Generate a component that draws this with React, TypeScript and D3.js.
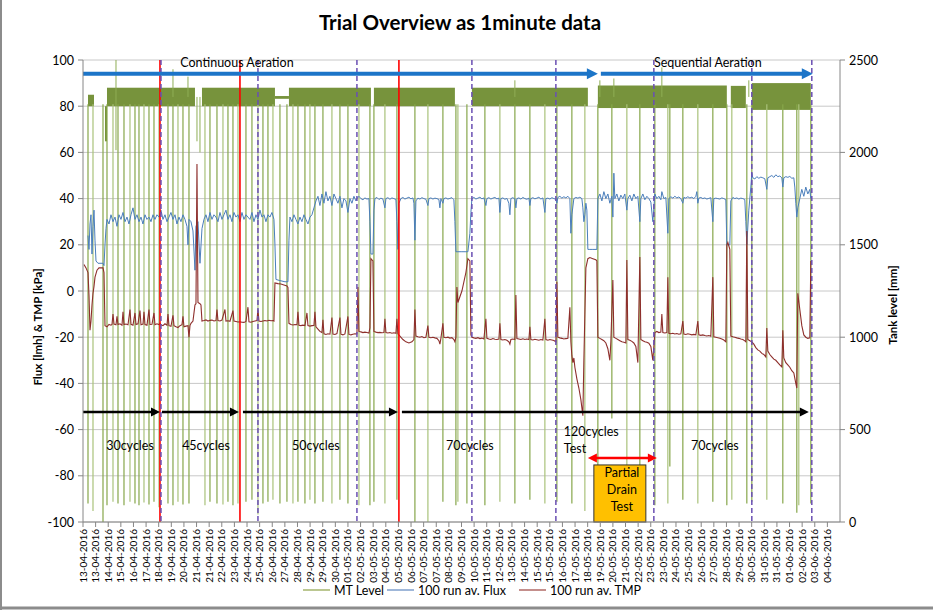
import React, { useEffect } from 'react';
import * as d3 from 'd3';

const W = 933;
const H = 610;
const PLOT = { left: 83, right: 840, top: 60, bottom: 522 };
const FONT = "Lato, 'Open Sans', sans-serif";

// x axis is a category axis of 1-minute samples; one tick label every 1262 samples
const SAMPLES_PER_LABEL = 1262;
const tickLabels = [
  '13-04-2016', '13-04-2016', '14-04-2016', '15-04-2016', '16-04-2016', '17-04-2016', '18-04-2016', '19-04-2016',
  '20-04-2016', '21-04-2016', '21-04-2016', '22-04-2016', '23-04-2016', '24-04-2016', '25-04-2016', '26-04-2016',
  '27-04-2016', '28-04-2016', '29-04-2016', '29-04-2016', '30-04-2016', '01-05-2016', '02-05-2016', '03-05-2016',
  '04-05-2016', '05-05-2016', '06-05-2016', '07-05-2016', '07-05-2016', '08-05-2016', '09-05-2016', '10-05-2016',
  '11-05-2016', '12-05-2016', '13-05-2016', '14-05-2016', '15-05-2016', '15-05-2016', '16-05-2016', '17-05-2016',
  '18-05-2016', '19-05-2016', '20-05-2016', '21-05-2016', '22-05-2016', '23-05-2016', '23-05-2016', '24-05-2016',
  '25-05-2016', '26-05-2016', '27-05-2016', '28-05-2016', '29-05-2016', '30-05-2016', '31-05-2016', '31-05-2016',
  '01-06-2016', '02-06-2016', '03-06-2016', '04-06-2016',
];
const leftTicks = [-100, -80, -60, -40, -20, 0, 20, 40, 60, 80, 100];
const rightTicks = [0, 500, 1000, 1500, 2000, 2500];

// 100 run av. Flux [lmh]: [sample, value]
const fluxData: [number, number][] = [
  [500, 24], [600, 18], [700, 29], [800, 33], [900, 16], [1000, 28], [1100, 35], [1200, 22], [1300, 13], [1500, 12],
  [1700, 12], [2000, 12], [2100, 11], [2200, 20], [2300, 27], [2400, 31],
  [2600, 29], [2800, 33], [3000, 30], [3200, 32], [3400, 28], [3600, 33], [3800, 31], [4000, 34], [4200, 30], [4400, 32],
  [4600, 29], [4800, 33], [5000, 36], [5200, 31], [5400, 33], [5600, 30], [5800, 32], [6000, 29], [6200, 33], [6400, 31],
  [6600, 32], [6800, 30], [7000, 33], [7200, 31], [7400, 33], [7600, 32], [7800, 35], [8000, 31], [8200, 33], [8400, 30],
  [8600, 32], [8800, 34], [9000, 31], [9200, 33], [9400, 29], [9600, 32], [9800, 30], [10000, 33], [10200, 31], [10400, 28],
  [10500, 20], [10600, 31], [10800, 30], [11000, 26], [11200, 9], [11300, 28], [11500, 30], [11700, 12], [11900, 27],
  [12100, 31], [12300, 33], [12500, 30], [12700, 34], [12900, 31], [13100, 33], [13300, 32], [13500, 30], [13700, 34],
  [13900, 31], [14100, 33], [14300, 35], [14500, 31], [14700, 33], [14900, 30], [15100, 34], [15300, 32], [15500, 33],
  [15700, 30], [15900, 34], [16100, 31], [16300, 33], [16500, 32], [16700, 31], [16900, 34], [17100, 30], [17300, 33],
  [17500, 31], [17700, 35], [17900, 32], [18100, 33], [18300, 30], [18500, 33], [18700, 32], [18900, 34], [19100, 31],
  [19200, 20], [19300, 5], [19700, 4.5], [20200, 4], [20500, 4], [20600, 22], [20700, 32],
  [20900, 30], [21100, 33], [21300, 31], [21500, 29], [21700, 32], [21900, 30], [22100, 33], [22300, 31], [22500, 29],
  [22700, 32], [22900, 33], [23100, 36], [23300, 39], [23500, 41], [23700, 37], [23900, 42], [24100, 38], [24300, 43],
  [24500, 39], [24700, 41], [24900, 37], [25100, 42], [25300, 40], [25500, 38], [25700, 41], [25900, 36], [26100, 40],
  [26300, 39], [26500, 34], [26700, 40], [26900, 38], [27100, 41], [27300, 39],
  [27400, 40], [27600, 41], [27800, 40], [28000, 39.5], [28200, 40.3], [28400, 39.8], [28600, 40], [28700, 30], [28800, 16],
  [29000, 16], [29100, 35], [29200, 40], [29400, 40.5], [29600, 39.6], [29800, 40.2], [30000, 39.8], [30200, 36], [30300, 40],
  [30500, 40.4], [30700, 39.7], [30900, 40.3], [31100, 40], [31300, 39.6], [31400, 30], [31500, 18], [31600, 38], [31800, 40],
  [32000, 40.5], [32200, 39.8], [32400, 40.2], [32600, 40.6], [32800, 39.9], [33000, 40.3], [33100, 38], [33200, 22],
  [33300, 39], [33500, 40.2], [33700, 39.8], [33900, 40.4], [34100, 40], [34300, 39.7], [34500, 37], [34600, 40],
  [34800, 40.3], [35000, 39.8], [35200, 40.2], [35400, 40], [35600, 39.6], [35700, 36], [35800, 40], [36000, 38],
  [36100, 40], [36300, 40.3], [36500, 39.8], [36700, 40.1], [36900, 40.4], [37100, 39.5], [37200, 30], [37300, 17],
  [37500, 17], [37900, 17], [38300, 17], [38500, 17], [38700, 25], [38800, 34], [38900, 40], [39100, 40.5], [39300, 39.8],
  [39500, 40.2], [39700, 40.6], [39900, 39.9], [40100, 40.3], [40300, 37], [40400, 40], [40600, 40.4], [40800, 39.8],
  [41000, 40.2], [41200, 40.5], [41400, 39.9], [41600, 40.2], [41700, 34], [41800, 40], [42000, 40.3], [42200, 39.7],
  [42400, 40.1], [42600, 38], [42700, 33], [42800, 40], [43000, 40.4], [43200, 39.8], [43300, 36], [43400, 40],
  [43600, 40.3], [43800, 39.8], [44000, 40.5], [44200, 40], [44400, 39.7], [44600, 40.2], [44700, 37], [44800, 40],
  [45000, 40.4], [45200, 39.9], [45400, 40.2], [45600, 40.6], [45800, 39.8], [46000, 40.3], [46200, 34], [46300, 40],
  [46500, 40.2], [46700, 39.8], [46900, 40.4], [47100, 40], [47300, 39.7], [47400, 38], [47500, 40.5], [47700, 41],
  [47900, 40.2], [48100, 40.8], [48300, 40.3], [48500, 41], [48700, 40], [48800, 25], [48900, 33], [49100, 40],
  [49300, 40.5], [49500, 40.2], [49700, 40.6], [49900, 40], [50000, 36], [50100, 30], [50200, 33], [50300, 38],
  [50400, 35], [50500, 18], [50700, 18], [51000, 18], [51400, 18], [51500, 40],
  [51700, 42], [51900, 39], [52100, 43], [52300, 40], [52500, 42], [52700, 38], [52900, 41], [53000, 32], [53100, 51],
  [53200, 40], [53400, 42], [53600, 39], [53800, 41.5], [54000, 40], [54200, 42], [54400, 35], [54500, 40], [54700, 41.5],
  [54900, 39], [55100, 42], [55300, 40], [55500, 41], [55700, 30], [55800, 40], [56000, 42], [56200, 39.5], [56400, 41],
  [56600, 40], [56800, 38.5], [57000, 30], [57100, 36], [57200, 42],
  [57400, 40], [57600, 41], [57800, 39.5], [57900, 43], [58100, 40], [58300, 40.5], [58500, 25], [58600, 40], [58800, 40.8],
  [59000, 40.2], [59200, 41], [59400, 40.3], [59600, 40.7], [59800, 40], [60000, 38], [60100, 40.5], [60300, 40.2],
  [60500, 40.8], [60700, 40.3], [60900, 40.6], [61100, 40], [61300, 41], [61400, 43], [61500, 38], [61600, 40.2],
  [61800, 40.5], [62000, 40], [62200, 40.3], [62400, 39.8], [62600, 40.1], [62800, 40.4], [63000, 30], [63100, 40],
  [63300, 40.2], [63500, 40], [63700, 39.8], [63900, 40.3], [64100, 40], [64300, 39.5], [64400, 20], [64700, 20],
  [64800, 39], [65000, 40.5], [65200, 40], [65400, 40.3], [65600, 39.8], [65800, 40.2], [66000, 40], [66200, 39.6],
  [66300, 30], [66400, 20], [66600, 35], [66800, 45], [66900, 51], [67000, 49],
  [67200, 48.5], [67400, 49.5], [67600, 48.8], [67800, 49.3], [68000, 49], [68200, 48.6], [68400, 44], [68500, 49],
  [68700, 49.5], [68900, 50], [69100, 49.2], [69300, 50.3], [69500, 49.5], [69700, 49.8], [69900, 49], [70000, 45],
  [70100, 49], [70300, 49.5], [70500, 49.2], [70700, 49.6], [70900, 48.8], [71100, 49], [71200, 45], [71300, 38],
  [71400, 32], [71500, 36], [71700, 40], [71900, 44], [72100, 41], [72300, 45], [72500, 42], [72700, 44], [72800, 40],
];

// 100 run av. TMP [kPa]: [sample, value]
const tmpData: [number, number][] = [
  [100, 11.5], [300, 10], [500, 8], [600, -2], [700, -17], [800, -13], [900, -6], [1000, -1], [1100, 2], [1200, 6],
  [1400, 9], [1600, 10], [2000, 10], [2100, 8], [2200, -15], [2400, -15.5], [2600, -14.5], [2800, -14.8], [2900, -14.5],
  [3000, -10], [3100, -14.3], [3300, -14.6], [3400, -11], [3500, -14.5], [3700, -14.2], [3900, -14.8], [4000, -9],
  [4100, -14.5], [4300, -14.3], [4500, -14.6], [4700, -8], [4800, -14.4], [5000, -14.8], [5200, -9.5], [5300, -14.5],
  [5500, -14.2], [5700, -8.5], [5800, -14.6], [6000, -14.3], [6100, -9], [6200, -14.5], [6400, -14.8], [6600, -8],
  [6700, -14.5], [6900, -14.4], [7100, -9.5], [7200, -14.6], [7400, -14.2], [7600, -14.5], [7700, -14], [7800, -14.6],
  [8000, -15], [8200, -14.2], [8400, -14.8], [8500, -10], [8600, -15], [8800, -15.3], [9000, -10.5], [9100, -15],
  [9300, -15.5], [9500, -15.8], [9700, -15], [9900, -14.6], [10000, -11], [10100, -15.5], [10300, -15.2], [10500, -15],
  [10600, -20], [10700, -15], [10800, -14], [11000, -13], [11200, -6], [11300, -5.5], [11400, 55], [11500, -5],
  [11700, -5.5], [11800, -6], [11900, -13], [12100, -12.8], [12300, -12.5], [12500, -13], [12700, -12.7], [12900, -12.6],
  [13100, -13], [13300, -12.8], [13400, -8], [13500, -12.8], [13700, -13], [13900, -12.6], [14200, -8], [14300, -13],
  [14500, -12.9], [14700, -13.1], [15000, -8.5], [15100, -13], [15300, -13.2], [15500, -13.4], [15700, -13.3],
  [15900, -13.5], [16100, -13.6], [16300, -13.2], [16500, -7], [16600, -13.3], [16800, -13.5], [17000, -13.2],
  [17200, -13], [17400, -12.8], [17500, -8], [17600, -13], [17800, -13.2], [18000, -13], [18200, -12.8], [18400, -13],
  [18600, -12.7], [18800, -12.9], [19000, -12.8], [19100, -13], [19200, 3.5], [19500, 3.2], [19800, 3], [20100, 2.6],
  [20400, 2.2], [20500, 1.5], [20600, -14], [20800, -14.5], [21000, -14.7], [21200, -14.5], [21400, -14.6], [21500, -9],
  [21600, -14.8], [21800, -15], [22000, -14.8], [22200, -15], [22400, -9.5], [22500, -15], [22700, -15.2], [22900, -15],
  [23100, -14.9], [23200, -9], [23300, -15.5], [23500, -16.5], [23700, -17.5], [23900, -18], [24000, -12.5],
  [24100, -18.5], [24300, -18.8], [24500, -18.5], [24700, -18.7], [24900, -11.5], [25000, -18.6], [25200, -18.8],
  [25400, -18.4], [25700, -11.5], [25800, -18.7], [26000, -19], [26200, -18.6], [26500, -11], [26600, -18.8],
  [26800, -19], [27000, -18.7], [27200, -18.5], [27400, -18.6], [27500, 1.7], [27600, -17.5], [27800, -17.7],
  [28000, -18], [28200, -17.8], [28400, -18], [28600, -18.2], [28700, -16], [28800, 14], [29000, 13], [29100, -17.5],
  [29300, -17.8], [29500, -18], [29700, -17.9], [29900, -18.1], [30100, -18], [30200, -12], [30300, -18],
  [30500, -18.2], [30700, -18], [30900, -18.3], [31100, -18.1], [31300, -18.3], [31400, -12], [31500, -18.5],
  [31700, -19.5], [32000, -21], [32300, -22], [32600, -22.5], [32900, -22], [33100, -21], [33200, -8], [33300, -19.5],
  [33500, -19.8], [33700, -20], [33900, -19.7], [34100, -20.2], [34300, -20], [34500, -15], [34600, -20], [34800, -20.2],
  [35000, -20], [35200, -20.3], [35400, -20.5], [35600, -21.5], [35700, -23], [35800, -20.5], [36000, -14], [36100, -20],
  [36300, -20.2], [36500, -20], [36700, -20.4], [36900, -20.2], [37100, -21], [37200, -22], [37300, -20], [37400, 1.7],
  [37500, -5], [37900, 0], [38300, 8], [38500, 14], [38700, 13], [38800, -19], [38900, -20], [39100, -20.3],
  [39300, -20.5], [39500, -20.2], [39700, -20.6], [39900, -20.4], [40100, -20.8], [40300, -12], [40400, -20.5],
  [40600, -20.8], [40800, -21], [41000, -20.6], [41200, -20.9], [41400, -21], [41600, -20.8], [41700, -14], [41800, -21],
  [42000, -21.2], [42200, -21], [42400, -21.3], [42600, -22], [42700, -23], [42800, -21], [43000, -20.8], [43200, -21],
  [43300, -1.7], [43400, -20.6], [43600, -20.8], [43800, -21], [44000, -20.7], [44200, -21], [44400, -20.8], [44600, -21],
  [44700, -15.5], [44800, -21], [45000, -21.2], [45200, -20.9], [45400, -21.1], [45600, -21.3], [45800, -21],
  [46000, -21.2], [46200, -12], [46300, -21], [46500, -21.3], [46700, -21], [46900, -21.2], [47100, -21.4], [47300, -22],
  [47400, 4], [47500, -20], [47700, -20.3], [47900, -20.5], [48100, -20.8], [48300, -20.6], [48500, -20.5], [48700, -7],
  [48800, -22], [48900, -28], [49000, -31], [49100, -29], [49200, -33], [49400, -38], [49600, -42], [49800, -47],
  [50000, -54], [50100, -30], [50300, 10], [50500, 14], [50700, 14.5], [51000, 14], [51300, 13.5], [51400, 13],
  [51500, -20], [51700, -20.5], [51900, -21], [52100, -21.5], [52300, -22.5], [52500, -25], [52700, -30], [52800, -22],
  [53000, 4.8], [53100, -20], [53300, -20.5], [53500, -21], [53700, -21.5], [53900, -22], [54100, -22.2], [54300, -22.5],
  [54400, 13.4], [54500, -21], [54700, -21.3], [54900, -21.8], [55100, -22.5], [55300, -24], [55500, -31], [55700, 14.7],
  [55800, -21], [56000, -21.5], [56200, -22], [56400, -22.2], [56600, -22.6], [56800, -24], [57000, -30], [57200, -18],
  [57400, -17.5], [57600, -18], [57800, -17.8], [57900, -10], [58000, -18], [58200, -18.2], [58400, -18], [58500, 6],
  [58600, -18.3], [58800, -18.5], [59000, -18.3], [59200, -18.6], [59400, -18.4], [59600, -18.7], [59800, -18.5],
  [60000, -13], [60100, -18.6], [60300, -18.8], [60500, -18.5], [60700, -18.7], [60900, -19], [61100, -18.8],
  [61300, -19], [61500, -13], [61600, -19], [61800, -19.2], [62000, -19], [62200, -19.3], [62400, -19.5], [62600, -19.3],
  [62800, -19.6], [63000, 6], [63100, -19.8], [63300, -20], [63500, -20.2], [63700, -20.5], [63900, -20.8],
  [64100, -21.2], [64300, -22], [64400, 20], [64500, 21], [64700, 18], [64800, -19.5], [65000, -19.8], [65200, -20],
  [65400, -20.3], [65600, -20.5], [65800, -20.8], [66000, -21], [66200, -21.6], [66300, -22], [66400, 26], [66500, -21],
  [66700, -21.5], [66900, -22], [67100, -23], [67300, -24.5], [67500, -25.5], [67700, -26], [67900, -27], [68100, -27.5],
  [68300, -28.6], [68400, -16], [68500, -26], [68700, -27.5], [68900, -28.5], [69100, -29.5], [69300, -30], [69500, -31],
  [69700, -32], [69900, -32.9], [70000, -17], [70100, -29], [70300, -31], [70500, -32], [70700, -33], [70900, -34.5],
  [71100, -35.5], [71300, -40], [71400, -42], [71500, -1], [71700, -8], [71900, -15], [72100, -19], [72300, -20],
  [72500, -20.5], [72700, -20.3], [72800, 13],
];

// MT Level [mm]: operating band envelopes [startSample, endSample, minLevel, maxLevel]
const mtBands: [number, number, number, number][] = [
  [500, 1100, 2250, 2312],
  [2200, 2400, 2060, 2250],
  [2400, 11200, 2250, 2350],
  [11900, 19200, 2250, 2350],
  [19200, 20600, 2290, 2305],
  [20600, 28800, 2250, 2350],
  [29100, 37200, 2250, 2350],
  [38900, 50500, 2250, 2350],
  [51500, 64400, 2240, 2362],
  [64800, 66300, 2240, 2360],
  [66900, 72800, 2230, 2375],
];
// MT Level drain events: [sample, lowest level mm]
const mtDrains: [number, number][] = [
  [500, 100], [1000, 60], [2000, 0], [2400, 90], [3000, 110], [3500, 100], [4100, 90], [4700, 110], [5200, 100],
  [5600, 90], [6100, 105], [6600, 95], [7100, 110], [7600, 80], [8500, 100], [9000, 90], [9500, 110], [10000, 95],
  [10600, 100], [12200, 90], [12700, 110], [13400, 100], [14000, 95], [14500, 110], [15000, 90], [15500, 100],
  [16300, 110], [16900, 120], [17500, 40], [18000, 100], [18500, 110], [19000, 120], [19700, 100], [20400, 110],
  [21000, 100], [21500, 110], [22200, 100], [22700, 120], [23200, 100], [24000, 110], [24900, 100], [25700, 120],
  [26500, 100], [27600, 90], [28700, 90], [29100, 110], [30200, 100], [31400, 120], [33200, 0], [34500, 0],
  [36000, 110], [37300, 90], [37500, 110], [38400, 100], [40200, 90], [41700, 110], [43200, 100], [44700, 120],
  [46200, 100], [47400, 110], [48900, 100], [50200, 60], [51500, 110], [52900, 560], [54400, 120], [55700, 110],
  [57200, 90], [58500, 100], [58700, 300], [60000, 120], [61500, 100], [63000, 110], [64400, 90], [64900, 120],
  [66400, 100], [66900, 110], [68400, 120], [70000, 100], [71400, 50], [71600, 90], [72800, 100],
];
// MT Level short excursions: [sample, low mm, high mm]
const mtExcursions: [number, number, number][] = [
  [3300, 2012, 2500], [9000, 2300, 2450], [10500, 2300, 2410], [11400, 2060, 2300], [11700, 2000, 2300],
  [43200, 2300, 2390], [51700, 2300, 2390], [53100, 2300, 2400], [57900, 2300, 2460], [66600, 2300, 2390],
];

const membraneChanges = [7700, 15700, 31600];
const phaseMarkers = [7800, 17500, 27400, 38900, 47300, 57100, 66900, 72900];
const aerationPhases = [
  { label: 'Continuous Aeration', start: 0, end: 51500, textAt: 15400 },
  { label: 'Sequential Aeration', start: 51800, end: 73000, textAt: 62500 },
];
const cyclePhases = [
  { start: 0, end: 7700 },
  { start: 7900, end: 15600 },
  { start: 16000, end: 31500 },
  { start: 31900, end: 72600 },
];
const cycleLabels = [
  { text: '30cycles', at: 4700 },
  { text: '45cycles', at: 12300 },
  { text: '50cycles', at: 23300 },
  { text: '70cycles', at: 38700 },
  { text: '70cycles', at: 63200 },
];

const x = d3.scaleLinear().domain([0, SAMPLES_PER_LABEL * tickLabels.length]).range([PLOT.left, PLOT.right]);
const yL = d3.scaleLinear().domain([-100, 100]).range([PLOT.bottom, PLOT.top]);
const yR = d3.scaleLinear().domain([0, 2500]).range([PLOT.bottom, PLOT.top]);

const COL_MT = '#77933C';
const COL_FLUX = '#4A7EBB';
const COL_TMP = '#8E2F2C';

function headPath(tipX: number, tipY: number, dir: number, len: number, half: number) {
  return `M${tipX},${tipY} L${tipX - dir * len},${tipY - half} L${tipX - dir * len},${tipY + half} Z`;
}

export default function App() {
  useEffect(() => {
    document.body.style.margin = '0';
  }, []);

  const line = d3
    .line<[number, number]>()
    .x((d) => x(d[0]))
    .y((d) => yL(d[1]));

  const aerY = yL(94);
  const cycY = yL(-52.4);
  const drainArrowY = yL(-72.3);

  return (
    <svg
      width={W}
      height={H}
      style={{ position: 'absolute', left: 0, top: 0, background: '#fff' }}
      fontFamily={FONT}
    >
      <rect x={0} y={0} width={W} height={H} fill="#fff" />
      <line x1={1} y1={0} x2={1} y2={H} stroke="#8c8c8c" strokeWidth={2} />
      <line x1={0} y1={H - 2} x2={W} y2={H - 2} stroke="#8c8c8c" strokeWidth={3} />

      <text x={460} y={30} textAnchor="middle" fontSize={20.5} fontWeight="bold" fill="#000">
        Trial Overview as 1minute data
      </text>

      {leftTicks.map((t) => (
        <line key={'g' + t} x1={PLOT.left} x2={PLOT.right} y1={yL(t)} y2={yL(t)} stroke="#c8c8c8" strokeWidth={1} />
      ))}

      <g>
        {mtBands.map((b, i) => (
          <rect
            key={'b' + i}
            x={x(b[0])}
            width={x(b[1]) - x(b[0])}
            y={yR(b[3])}
            height={yR(b[2]) - yR(b[3])}
            fill={COL_MT}
          />
        ))}
        {mtDrains.map((d, i) => (
          <line
            key={'d' + i}
            x1={x(d[0])}
            x2={x(d[0])}
            y1={yR(2260)}
            y2={yR(d[1])}
            stroke={i % 3 === 1 ? '#a9c27a' : '#86a64a'}
            strokeWidth={1.2}
          />
        ))}
        {mtExcursions.map((d, i) => (
          <line key={'e' + i} x1={x(d[0])} x2={x(d[0])} y1={yR(d[1])} y2={yR(d[2])} stroke="#8fae55" strokeWidth={1} />
        ))}
      </g>

      <path d={line(fluxData) || ''} fill="none" stroke={COL_FLUX} strokeWidth={1} />
      <path d={line(tmpData) || ''} fill="none" stroke={COL_TMP} strokeWidth={1.1} />

      {membraneChanges.map((s) => (
        <line key={'r' + s} x1={x(s)} x2={x(s)} y1={PLOT.top} y2={PLOT.bottom} stroke="#ff0000" strokeWidth={1.6} />
      ))}
      {phaseMarkers.map((s) => (
        <line
          key={'p' + s}
          x1={x(s)}
          x2={x(s)}
          y1={PLOT.top}
          y2={PLOT.bottom}
          stroke="#6a4fb3"
          strokeWidth={1.5}
          strokeDasharray="5,3"
        />
      ))}

      {aerationPhases.map((p) => (
        <g key={p.label}>
          <line x1={x(p.start)} x2={x(p.end) - 9} y1={aerY} y2={aerY} stroke="#1C75C8" strokeWidth={4} />
          <path d={headPath(x(p.end), aerY, 1, 11, 5.5)} fill="#1C75C8" />
          <text x={x(p.textAt)} y={yL(97)} textAnchor="middle" fontSize={12.5} fill="#000">
            {p.label}
          </text>
        </g>
      ))}

      {cyclePhases.map((p, i) => (
        <g key={'c' + i}>
          <line x1={x(p.start)} x2={x(p.end) - 7} y1={cycY} y2={cycY} stroke="#000" strokeWidth={2.5} />
          <path d={headPath(x(p.end), cycY, 1, 9, 4.5)} fill="#000" />
        </g>
      ))}
      {cycleLabels.map((c, i) => (
        <text key={'cl' + i} x={x(c.at)} y={yL(-68.8)} textAnchor="middle" fontSize={12.5} fill="#000">
          {c.text}
        </text>
      ))}
      <text x={x(48100)} y={yL(-62.8)} fontSize={12.5} fill="#000">
        120cycles
      </text>
      <text x={x(48100)} y={yL(-70.2)} fontSize={12.5} fill="#000">
        Test
      </text>

      <line x1={x(50500) + 8} x2={x(57400) - 8} y1={drainArrowY} y2={drainArrowY} stroke="#ff0000" strokeWidth={2.5} />
      <path d={headPath(x(50500), drainArrowY, -1, 9, 4.5)} fill="#ff0000" />
      <path d={headPath(x(57400), drainArrowY, 1, 9, 4.5)} fill="#ff0000" />
      <rect
        x={x(51100)}
        y={yL(-75.3)}
        width={x(56300) - x(51100)}
        height={yL(-100) - yL(-75.3)}
        fill="#FFC000"
        stroke="#333"
        strokeWidth={1}
      />
      {['Partial', 'Drain', 'Test'].map((t, i) => (
        <text key={t} x={(x(51100) + x(56300)) / 2 + 2} y={yL(-77.4) + 7 + i * 17} textAnchor="middle" fontSize={12.5} fill="#000">
          {t}
        </text>
      ))}

      <line x1={PLOT.left} x2={PLOT.left} y1={PLOT.top} y2={PLOT.bottom} stroke="#868686" />
      <line x1={PLOT.right} x2={PLOT.right} y1={PLOT.top} y2={PLOT.bottom} stroke="#868686" />
      <line x1={PLOT.left} x2={PLOT.right} y1={PLOT.bottom} y2={PLOT.bottom} stroke="#868686" />
      {leftTicks.map((t) => (
        <g key={'lt' + t}>
          <line x1={PLOT.left - 5} x2={PLOT.left} y1={yL(t)} y2={yL(t)} stroke="#868686" />
          <text x={PLOT.left - 9} y={yL(t) + 4.5} textAnchor="end" fontSize={12.5} fill="#000">
            {t}
          </text>
        </g>
      ))}
      {rightTicks.map((t) => (
        <g key={'rt' + t}>
          <line x1={PLOT.right} x2={PLOT.right + 5} y1={yR(t)} y2={yR(t)} stroke="#868686" />
          <text x={PLOT.right + 9} y={yR(t) + 4.5} textAnchor="start" fontSize={12.5} fill="#000">
            {t}
          </text>
        </g>
      ))}
      {tickLabels.map((l, i) => {
        const px = x(i * SAMPLES_PER_LABEL);
        return (
          <g key={'xt' + i}>
            <line x1={px} x2={px} y1={PLOT.bottom} y2={PLOT.bottom + 5} stroke="#868686" />
            <text
              transform={`translate(${px + 3.5},${PLOT.bottom + 7}) rotate(-90)`}
              textAnchor="end"
              fontSize={10}
              fill="#000"
            >
              {l}
            </text>
          </g>
        );
      })}

      <text transform={`translate(42,${(PLOT.top + PLOT.bottom) / 2 + 36}) rotate(-90)`} textAnchor="middle" fontSize={11.5} fontWeight="bold">
        Flux [lmh] &amp; TMP  [kPa]
      </text>
      <text transform={`translate(897,305) rotate(-90)`} textAnchor="middle" fontSize={11.5} fontWeight="bold">
        Tank level [mm]
      </text>

      {[
        { label: 'MT Level', color: '#a4b46c', x0: 303 },
        { label: '100 run av. Flux', color: '#7f9fcc', x0: 387 },
        { label: '100 run av. TMP', color: '#b06a66', x0: 519 },
      ].map((l) => (
        <g key={l.label}>
          <line x1={l.x0} x2={l.x0 + 27} y1={590} y2={590} stroke={l.color} strokeWidth={1.5} />
          <text x={l.x0 + 31} y={594.5} fontSize={12.5} fill="#000">
            {l.label}
          </text>
        </g>
      ))}
    </svg>
  );
}
